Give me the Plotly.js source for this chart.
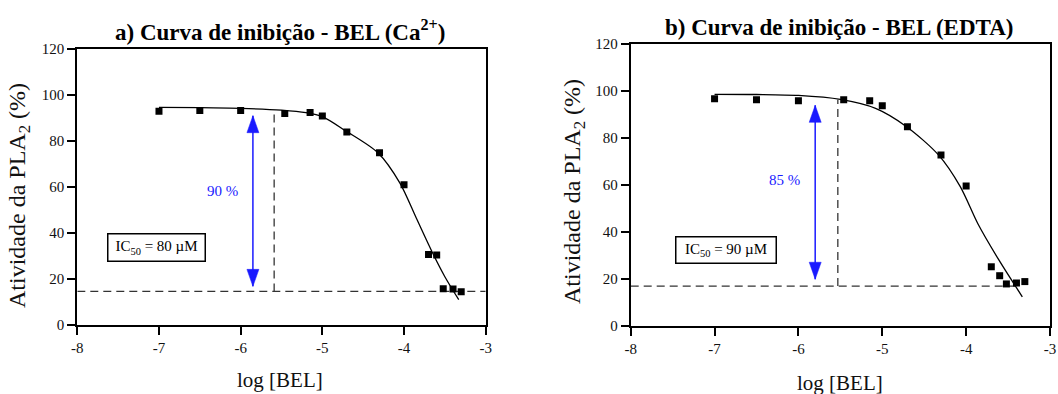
<!DOCTYPE html>
<html>
<head>
<meta charset="utf-8">
<script src="https://cdn.plot.ly/plotly-3.0.1.min.js"></script>
<style>
  html, body { margin: 0; padding: 0; background: #fff; }
  #chart { width: 1058px; height: 394px; }
</style>
</head>
<body>
<div id="chart"></div>
<script>
// log of the inhibitor concentration (M), same for both assays
const logBEL = [-7, -6.5, -6, -5.46, -5.15, -5, -4.7, -4.3, -4, -3.7, -3.6, -3.52, -3.4, -3.3];

// a) activity with Ca2+
const activityCa = [92.9, 93.3, 93.3, 92.0, 92.4, 90.9, 83.9, 74.9, 61.0, 30.7, 30.4, 15.8, 15.6, 14.5];
// fitted sigmoid for a)
const fitCaX = [-7, -6.5, -6, -5.5, -5.2, -5.0, -4.71, -4.32, -4.05, -3.85, -3.65, -3.5, -3.33];
const fitCaY = [94.6, 94.5, 94.2, 93.4, 92.3, 90.6, 84.3, 74.9, 61.7, 46.5, 31.3, 21.0, 11.0];

// b) activity with EDTA
const activityEDTA = [96.7, 96.3, 95.9, 96.3, 95.9, 93.7, 84.8, 72.8, 59.6, 25.2, 21.4, 17.9, 18.3, 18.9];
// fitted sigmoid for b)
const fitEdtaX = [-7, -6.5, -6, -5.5, -5.08, -4.71, -4.33, -4.07, -3.86, -3.61, -3.33];
const fitEdtaY = [98.6, 98.5, 98.1, 96.4, 92.6, 84.8, 72.8, 59.3, 43.5, 28.1, 12.4];

// residual activity level and the reference concentration marked by dashed lines
const residualCa = 14.6, residualEdta = 17.0;
const markCa = -5.59, markEdta = -5.53;
const markTopCa = 93.2, markTopEdta = 96.3;
const residualEndCa = -3, residualEndEdta = -3.38;

// inhibition span arrows: [x, low end, high end]
const spanCa = [-5.85, 16.8, 91.0];
const spanEdta = [-5.80, 19.9, 93.9];
const inhibitionCa = '90 %';
const inhibitionEdta = '85 %';
const ic50Ca = 'IC<sub>50</sub> = 80 µM';
const ic50Edta = 'IC<sub>50</sub> = 90 µM';

const titleA = '<b>a) Curva de inibição - BEL (Ca<sup>2+</sup>)</b>';
const titleB = '<b>b) Curva de inibição - BEL (EDTA)</b>';
const xTitle = 'log [BEL]';
const yTitle = 'Atividade da PLA<sub>2</sub> (%)';

const xTicks = [-8, -7, -6, -5, -4, -3];
const xTickText = ['-8', '-7', '-6', '-5', '-4', '-3'];
const yTicks = [0, 20, 40, 60, 80, 100, 120];

const FONT = 'Liberation Serif';
const BLUE = '#1a1aff';

function pointsTrace(y, xa, ya) {
  return { x: logBEL, y: y, xaxis: xa, yaxis: ya, type: 'scatter', mode: 'markers',
    marker: { symbol: 'square', size: 7, color: '#000' }, hoverinfo: 'x+y' };
}
function fitTrace(x, y, xa, ya) {
  return { x: x, y: y, xaxis: xa, yaxis: ya, type: 'scatter', mode: 'lines',
    line: { color: '#000', width: 1.3, shape: 'spline', smoothing: 0.8 }, hoverinfo: 'skip' };
}
function dashTrace(x, y, xa, ya) {
  return { x: x, y: y, xaxis: xa, yaxis: ya, type: 'scatter', mode: 'lines',
    line: { color: '#333', width: 1.3, dash: '8px,5px' }, hoverinfo: 'skip' };
}

const traces = [
  dashTrace([-8, residualEndCa], [residualCa, residualCa], 'x', 'y'),
  dashTrace([markCa, markCa], [residualCa, markTopCa], 'x', 'y'),
  fitTrace(fitCaX, fitCaY, 'x', 'y'),
  pointsTrace(activityCa, 'x', 'y'),
  dashTrace([-8, residualEndEdta], [residualEdta, residualEdta], 'x2', 'y2'),
  dashTrace([markEdta, markEdta], [residualEdta, markTopEdta], 'x2', 'y2'),
  fitTrace(fitEdtaX, fitEdtaY, 'x2', 'y2'),
  pointsTrace(activityEDTA, 'x2', 'y2')
];

function xAxis(domain, anchor) {
  return { domain: domain, anchor: anchor, range: [-8, -3], tickvals: xTicks, ticktext: xTickText,
    ticks: 'outside', ticklen: 8, tickwidth: 2, tickcolor: '#000',
    showline: true, linecolor: '#000', linewidth: 2, mirror: true,
    showgrid: false, zeroline: false,
    tickfont: { family: FONT, size: 15, color: '#111' } };
}
function yAxis(domain, anchor) {
  return { domain: domain, anchor: anchor, range: [0, 120], tickvals: yTicks,
    ticks: 'outside', ticklen: 8, tickwidth: 2, tickcolor: '#000',
    showline: true, linecolor: '#000', linewidth: 2, mirror: true,
    showgrid: false, zeroline: false,
    tickfont: { family: FONT, size: 15, color: '#111' } };
}

function spanShapes(span, xr, yr) {
  return [
    { type: 'line', xref: xr, yref: yr, x0: span[0], x1: span[0], y0: span[1], y1: span[2],
      line: { color: BLUE, width: 1.5 } },
    { type: 'path', xref: xr, yref: yr, xsizemode: 'pixel', ysizemode: 'pixel',
      xanchor: span[0], yanchor: span[2], path: 'M0,0 L-6,-17 L6,-17 Z',
      fillcolor: BLUE, line: { color: BLUE, width: 0.5 } },
    { type: 'path', xref: xr, yref: yr, xsizemode: 'pixel', ysizemode: 'pixel',
      xanchor: span[0], yanchor: span[1], path: 'M0,0 L-6,17 L6,17 Z',
      fillcolor: BLUE, line: { color: BLUE, width: 0.5 } }
  ];
}

function note(text, xref, yref, x, y, font, extra) {
  return Object.assign({ text: text, xref: xref, yref: yref, x: x, y: y,
    xanchor: 'center', yanchor: 'middle', showarrow: false, font: font }, extra || {});
}

const titleFont = { family: FONT, size: 23, color: '#000' };
const axisTitleFont = { family: FONT, size: 21, color: '#111' };
const yTitleFont = { family: FONT, size: 24, color: '#111' };
const blueFont = { family: FONT, size: 15, color: BLUE };
const boxFont = { family: FONT, size: 15, color: '#000' };
const boxStyle = { borderpad: 3, bordercolor: '#000', borderwidth: 1.5, bgcolor: '#fff' };

const annotations = [
  note(titleA, 'paper', 'paper', 280 / 1058, 1 - 31 / 394, titleFont),
  note(titleB, 'paper', 'paper', 839 / 1058, 1 - 27 / 394, titleFont),
  note(xTitle, 'paper', 'paper', 280 / 1058, 1 - 380 / 394, axisTitleFont),
  note(xTitle, 'paper', 'paper', 840 / 1058, 1 - 383 / 394, axisTitleFont),
  note(yTitle, 'paper', 'paper', 19 / 1058, 1 - 196 / 394, yTitleFont, { textangle: -90 }),
  note(yTitle, 'paper', 'paper', 574 / 1058, 1 - 192 / 394, yTitleFont, { textangle: -90 }),
  note(inhibitionCa, 'x', 'y', -6.22, 58.4, blueFont),
  note(inhibitionEdta, 'x2', 'y2', -6.17, 62.1, blueFont),
  note(ic50Ca, 'x', 'y', -7.03, 33.9, boxFont, Object.assign({ width: 90, height: 20 }, boxStyle)),
  note(ic50Edta, 'x2', 'y2', -6.86, 32.3, boxFont, Object.assign({ width: 93, height: 19 }, boxStyle))
];

const layout = {
  width: 1058, height: 394,
  margin: { l: 0, r: 0, t: 0, b: 0 },
  paper_bgcolor: '#fff', plot_bgcolor: '#fff',
  showlegend: false,
  font: { family: FONT },
  xaxis: xAxis([77.3 / 1058, 485.7 / 1058], 'y'),
  yaxis: yAxis([69 / 394, 345 / 394], 'x'),
  xaxis2: xAxis([630.7 / 1058, 1050 / 1058], 'y2'),
  yaxis2: yAxis([68 / 394, 350 / 394], 'x2'),
  shapes: spanShapes(spanCa, 'x', 'y').concat(spanShapes(spanEdta, 'x2', 'y2')),
  annotations: annotations
};

Plotly.newPlot('chart', traces, layout, { displayModeBar: false, staticPlot: true });
</script>
</body>
</html>
